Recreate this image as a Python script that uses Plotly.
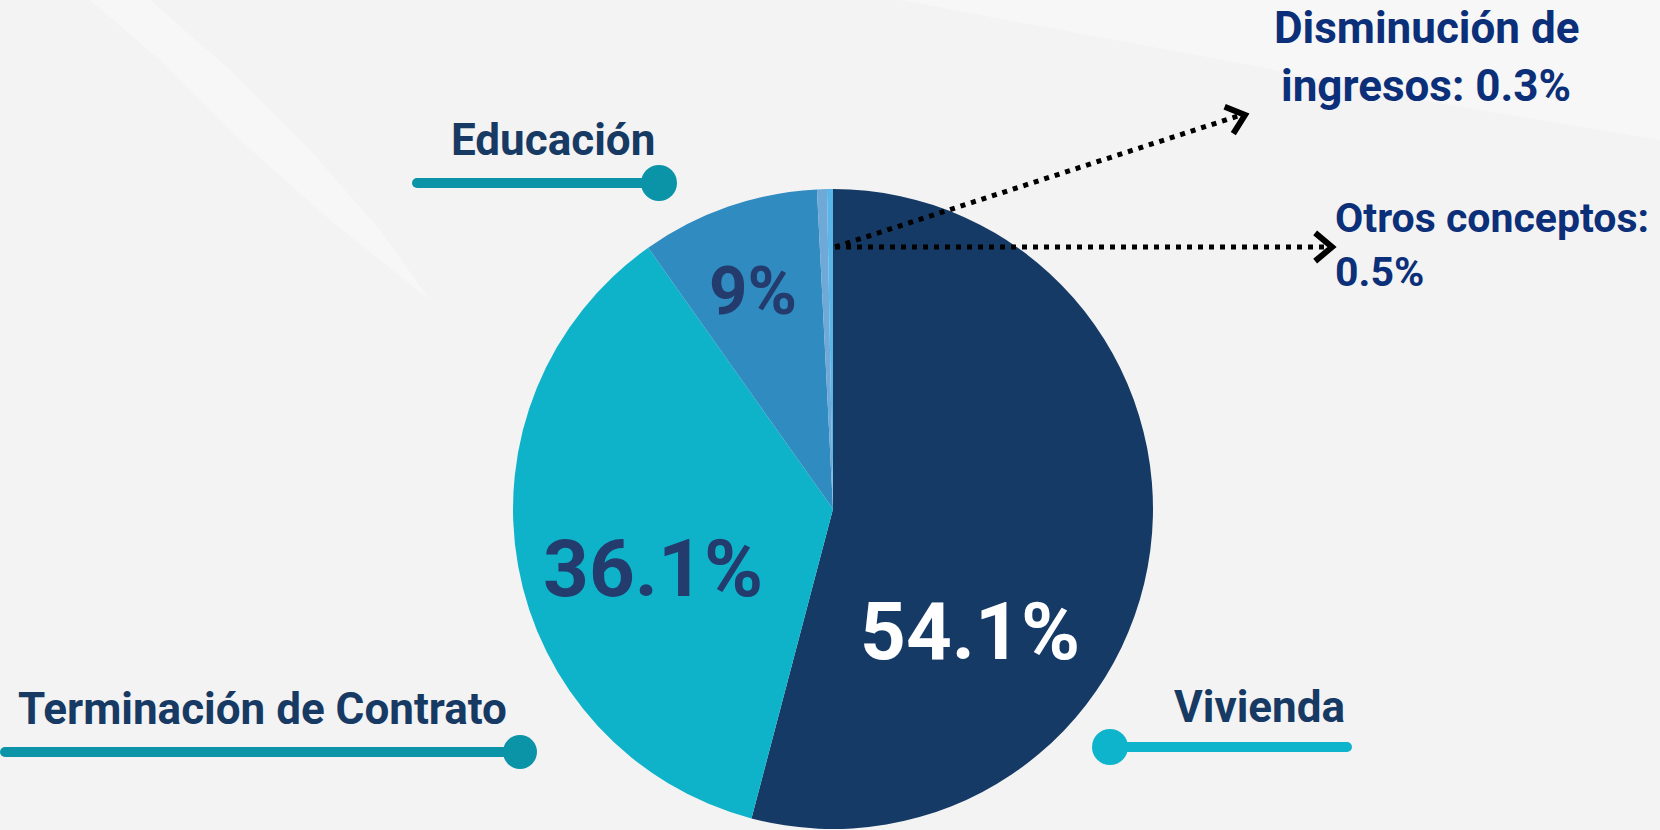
import numpy as np
import plotly.graph_objects as go

W, H = 1660, 830

# ---- data ----
categories = ["Vivienda", "Terminación de Contrato", "Educación",
              "Otros conceptos", "Disminución de ingresos"]
values = [54.1, 36.1, 9.0, 0.5, 0.3]
slice_colors = ["#163A66", "#0EB3C9", "#2F8BC0", "#6EA9D8", "#5AB6E9"]
pct_labels = [f"{v:g}%" for v in values]

# ---- geometry helpers (pixel -> paper) ----
def px(x):
    return x / W

def py(y):
    return 1 - y / H

CX, CY, R = 833, 509, 320
FONT = "Roboto"
NAVY = "#173A64"
BLUE_TXT = "#0B2F78"

fig = go.Figure(go.Pie(
    labels=categories, values=values, sort=False, direction="clockwise",
    rotation=0, marker=dict(colors=slice_colors, line=dict(width=0)),
    textinfo="none", hoverinfo="label+percent", showlegend=False,
    domain=dict(x=[px(CX - R), px(CX + R)], y=[py(CY + R), py(CY - R)]),
))

shapes = []

def path_from(points, close=True):
    s = "M " + " L ".join(f"{px(x):.5f},{py(y):.5f}" for x, y in points)
    return s + (" Z" if close else "")

# subtle background swooshes
swoosh1 = [(150, 0), (230, 70), (310, 150), (380, 230), (430, 300), (330, 220),
           (240, 140), (160, 60), (90, 0)]
swoosh2 = [(900, 0), (1660, 0), (1660, 140), (1450, 105), (1250, 65), (1050, 28)]
for pts, op in [(swoosh1, 0.35), (swoosh2, 0.35)]:
    shapes.append(dict(type="path", path=path_from(pts), xref="paper", yref="paper",
                       fillcolor="white", opacity=op, line=dict(width=0), layer="below"))

def circle(cx, cy, r, color):
    return dict(type="circle", xref="paper", yref="paper",
                x0=px(cx - r), x1=px(cx + r), y0=py(cy + r), y1=py(cy - r),
                fillcolor=color, line=dict(width=0), layer="above")

def hline(x0, x1, y, color, w):
    return dict(type="line", xref="paper", yref="paper",
                x0=px(x0), x1=px(x1), y0=py(y), y1=py(y),
                line=dict(color=color, width=w), layer="above")

TEAL = "#0B94A7"
CYAN = "#0EB4CB"
# Educación marker
shapes += [hline(417, 659, 183, TEAL, 10), circle(417, 183, 5, TEAL), circle(659, 183, 18, TEAL)]
# Terminación marker
shapes += [hline(5, 520, 752, TEAL, 10), circle(5, 752, 5, TEAL), circle(520, 752, 17, TEAL)]
# Vivienda marker
shapes += [hline(1110, 1347, 747, CYAN, 10), circle(1347, 747, 5, CYAN), circle(1110, 747, 18, CYAN)]

# dotted arrows
start = (835, 247)
ends = [(1245, 115), (1332, 247)]
for ex, ey in ends:
    shapes.append(dict(type="line", xref="paper", yref="paper",
                       x0=px(start[0]), y0=py(start[1]), x1=px(ex - 4), y1=py(ey),
                       line=dict(color="black", width=5, dash="5px,6px"), layer="above"))
    ang = np.arctan2(ey - start[1], ex - start[0])
    L, a = 22, np.radians(40)
    p1 = (ex - L * np.cos(ang - a), ey - L * np.sin(ang - a))
    p2 = (ex - L * np.cos(ang + a), ey - L * np.sin(ang + a))
    shapes.append(dict(type="path", xref="paper", yref="paper",
                       path=path_from([p1, (ex, ey), p2], close=False),
                       line=dict(color="black", width=6), layer="above"))

annotations = []

def text(t, x, y, xanchor, size, color):
    annotations.append(dict(text=t, x=px(x), y=py(y), xref="paper", yref="paper",
                            xanchor=xanchor, yanchor="middle", showarrow=False,
                            font=dict(family=FONT, size=size, color=color, weight="bold")))

# category labels
text(categories[2], 657, 140, "right", 44, NAVY)
text(categories[1], 16, 709, "left", 44, NAVY)
text(categories[0], 1347, 707, "right", 44, NAVY)
text("Disminución de", 1426, 28, "center", 44, BLUE_TXT)
text(f"ingresos: {pct_labels[4]}", 1426, 86, "center", 44, BLUE_TXT)
text("Otros conceptos:", 1333, 218, "left", 41, BLUE_TXT)
text(pct_labels[3], 1333, 272, "left", 41, BLUE_TXT)

# percentage labels inside slices
text(pct_labels[0], 970, 632, "center", 80, "white")
text(pct_labels[1], 653, 569, "center", 80, "#243B6E")
text(pct_labels[2], 753, 291, "center", 67, "#243B6E")

fig.update_layout(
    width=W, height=H, margin=dict(l=0, r=0, t=0, b=0),
    paper_bgcolor="#F3F3F3", plot_bgcolor="#F3F3F3",
    shapes=shapes, annotations=annotations,
)

fig.write_html("out.html", config={"displayModeBar": False},
               post_script="document.body.style.margin='0';document.body.style.overflow='hidden';")
